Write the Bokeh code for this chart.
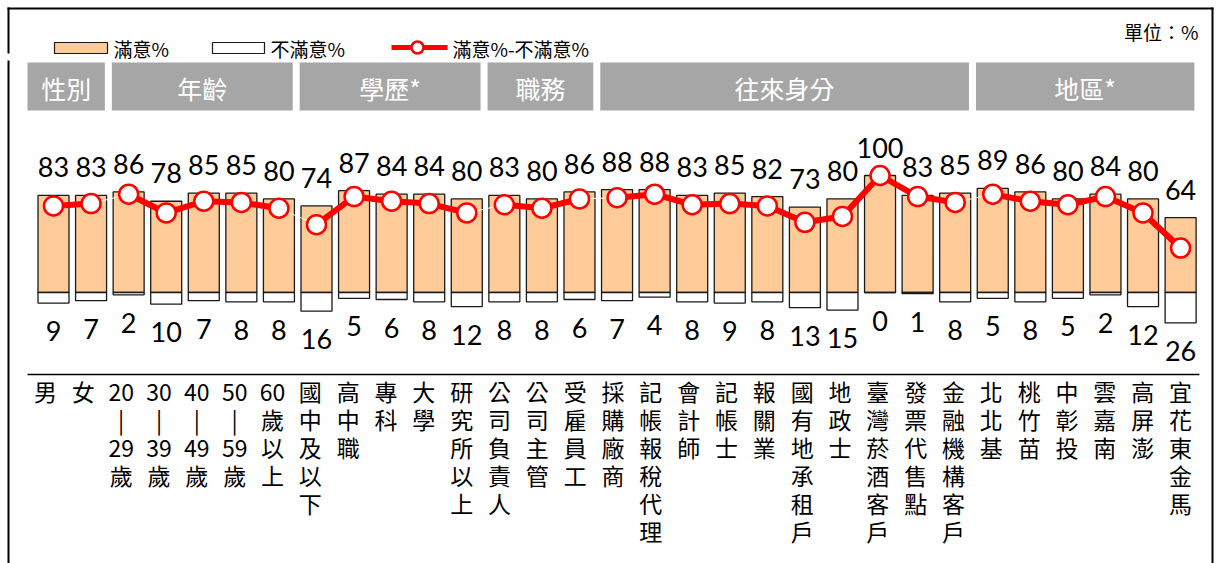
from bokeh.plotting import figure
from bokeh.models import Range1d, ColumnDataSource
from bokeh.core.properties import value
from bokeh.embed import file_html
from bokeh.resources import INLINE

# ---------------- data ----------------
categories = ["男", "女", "20-29歲", "30-39歲", "40-49歲", "50-59歲", "60歲以上",
              "國中及以下", "高中職", "專科", "大學", "研究所以上",
              "公司負責人", "公司主管", "受雇員工",
              "採購廠商", "記帳報稅代理", "會計師", "記帳士", "報關業", "國有地承租戶",
              "地政士", "臺灣菸酒客戶", "發票代售點", "金融機構客戶",
              "北北基", "桃竹苗", "中彰投", "雲嘉南", "高屏澎", "宜花東金馬"]
satisfied = [83, 83, 86, 78, 85, 85, 80, 74, 87, 84, 84, 80, 83, 80, 86,
             88, 88, 83, 85, 82, 73, 80, 100, 83, 85, 89, 86, 80, 84, 80, 64]
unsatisfied = [9, 7, 2, 10, 7, 8, 8, 16, 5, 6, 8, 12, 8, 8, 6,
               7, 4, 8, 9, 8, 13, 15, 0, 1, 8, 5, 8, 5, 2, 12, 26]
net = [74, 76, 84, 68, 78, 77, 72, 58, 82, 78, 76, 68, 75, 72, 80,
       81, 84, 75, 76, 74, 60, 65, 100, 82, 77, 84, 78, 75, 82, 68, 38]
group_names = ["性別", "年齡", "學歷*", "職務", "往來身分", "地區*"]
group_sizes = [2, 5, 5, 3, 10, 6]
legend_labels = ["滿意%", "不滿意%", "滿意%-不滿意%"]
unit_label = "單位：%"

# ---------------- layout helpers (page pixel -> data) ----------------
W, H = 1219, 563
PX = 37.57          # px per category
PY = 1.17           # px per percentage point
X0 = 53             # page x of first category centre
BASE = 292          # page y of zero line


def dx(sx):
    return (sx - X0) / PX


def dy(sy):
    return (BASE - sy) / PY


p = figure(width=W, height=H, output_backend="svg", toolbar_location=None,
           x_range=Range1d(dx(0), dx(W)),
           y_range=Range1d(dy(H), dy(0)),
           min_border=0, x_axis_location=None, y_axis_location=None)
p.grid.visible = False
p.outline_line_color = None
p.background_fill_color = "white"
p.border_fill_color = "white"

# outer frame (left, top, right)
p.segment(x0=[dx(8), dx(8), dx(7), dx(1212)],
          y0=[dy(7), dy(60), dy(8), dy(7)],
          x1=[dx(8), dx(8), dx(1213), dx(1212)],
          y1=[dy(53), dy(570), dy(8), dy(570)],
          line_color="black", line_width=2)

idx = list(range(len(categories)))
n_cat = len(categories)
CJK = value("Noto Sans CJK TC")
NUM = value("Lato")

# bars
src = ColumnDataSource(dict(x=idx, sat=satisfied, uns=[-u for u in unsatisfied],
                            net=net))
p.vbar(x="x", top="sat", bottom=0, width=0.825, source=src,
       fill_color="#FFCC99", line_color="#1a1a1a", line_width=1.3)
p.vbar(x="x", top=0, bottom="uns", width=0.825, source=src,
       fill_color="white", line_color="#1a1a1a", line_width=1.3)

# thin connector across groups
p.line(x="x", y="net", source=src, line_color="white", line_width=1)

# red line per group
start = 0
groups = []
for name, n in zip(group_names, group_sizes):
    end = start + n - 1
    groups.append((name, start, end))
    p.line(idx[start:end + 1], net[start:end + 1], line_color="#FF0000",
           line_width=6)
    start = end + 1

p.scatter(x="x", y="net", source=src, size=19, fill_color="white",
          line_color="#FF0000", line_width=2.5)

# value labels
p.text(x=idx, y=[s + 28 / PY for s in satisfied], text=[str(s) for s in satisfied],
       text_align="center", text_baseline="middle", text_font=NUM,
       text_font_size="27px", text_color="black")
p.text(x=idx, y=[-u - 28 / PY for u in unsatisfied], text=[str(u) for u in unsatisfied],
       text_align="center", text_baseline="middle", text_font=NUM,
       text_font_size="27px", text_color="black")


# vertical category labels
def vertical(s):
    parts, buf = [], ""
    for ch in s:
        if ch.isdigit():
            buf += ch
            continue
        if buf:
            parts.append(buf)
            buf = ""
        parts.append("|" if ch == "-" else ch)
    if buf:
        parts.append(buf)
    return "\n".join(parts)


lab_x = [dx(45 + i * (1180 - 45) / (n_cat - 1)) for i in idx]
p.text(x=lab_x, y=[dy(373)] * n_cat, text=[vertical(c) for c in categories],
       text_align="center", text_baseline="top", text_font=CJK,
       text_font_size="23px", text_line_height=0.826, text_color="black")

# axis line
p.segment(x0=[dx(27)], y0=[dy(374)], x1=[dx(1199)], y1=[dy(374)],
          line_color="black", line_width=1.5)

# group headers
lefts, rights, mids = [], [], []
for k, (name, s, e) in enumerate(groups):
    l = dx(27) if k == 0 else s - 0.5 + 2 / PX
    r = e + 0.5 - 5 / PX
    lefts.append(l)
    rights.append(r)
    mids.append((l + r) / 2)
p.quad(left=lefts, right=rights, top=dy(62), bottom=dy(110),
       fill_color="#A6A6A6", line_color=None)
p.text(x=mids, y=[dy(87)] * len(mids), text=group_names, text_align="center",
       text_baseline="middle", text_font=CJK, text_font_size="25px",
       text_color="white")

# legend
p.quad(left=[dx(54)], right=[dx(107)], top=[dy(42)], bottom=[dy(53)],
       fill_color="#FFCC99", line_color="#1a1a1a", line_width=1.2)
p.quad(left=[dx(212)], right=[dx(264)], top=[dy(42)], bottom=[dy(53)],
       fill_color="white", line_color="#1a1a1a", line_width=1.2)
p.segment(x0=[dx(391)], y0=[dy(47)], x1=[dx(447)], y1=[dy(47)],
          line_color="#FF0000", line_width=5)
p.scatter(x=[dx(417)], y=[dy(47)], size=12, fill_color="white",
          line_color="#FF0000", line_width=2.5)
p.text(x=[dx(113), dx(270), dx(452)], y=[dy(48)] * 3, text=legend_labels,
       text_align="left", text_baseline="middle", text_font=CJK,
       text_font_size="19px", text_color="black")

# unit
p.text(x=[dx(1198)], y=[dy(31)], text=[unit_label], text_align="right",
       text_baseline="middle", text_font=CJK, text_font_size="19px",
       text_color="black")

open("out.html", "w").write(file_html(p, INLINE))
